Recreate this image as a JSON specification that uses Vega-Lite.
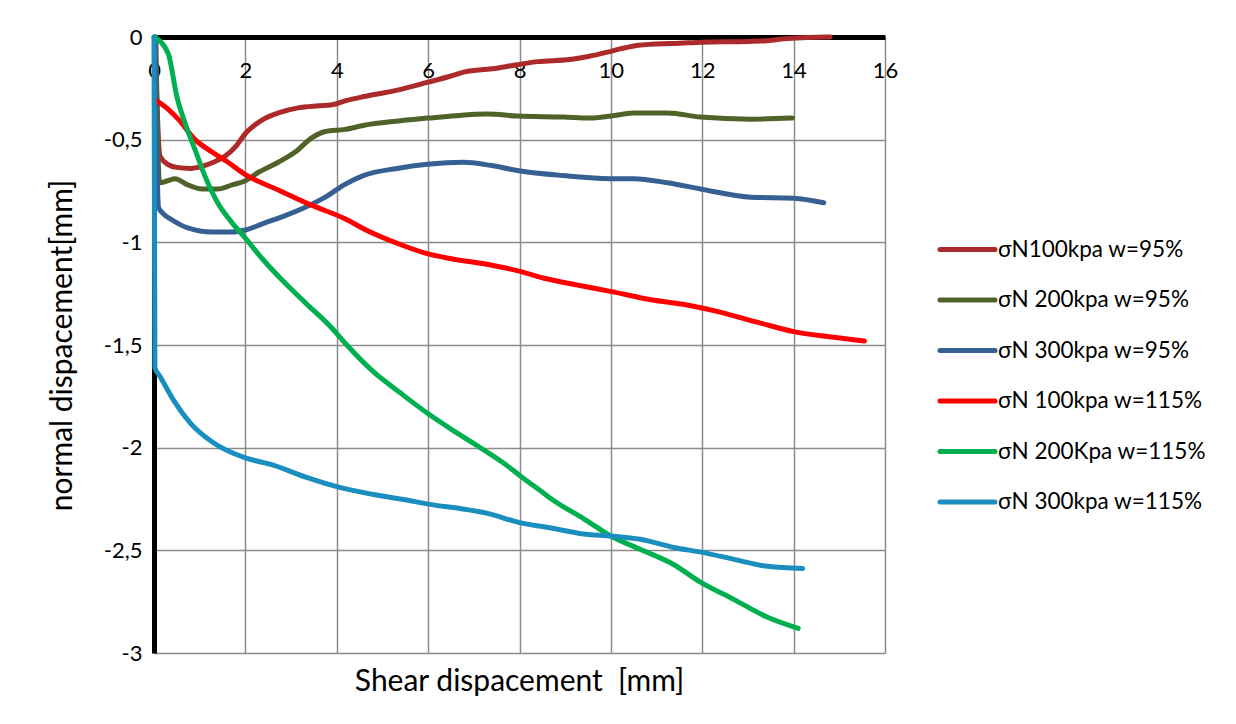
{
"$schema": "https://vega.github.io/schema/vega-lite/v6.json",
"width": 731, "height": 616,
"autosize": {"type": "none"},
"padding": {"left": 154, "top": 37, "right": 351, "bottom": 71},
"background": "white",
"config": {"font": "Lato", "view": {"stroke": null}},
"data": {"values": [
{"s":"σN100kpa w=95%","x":0.02,"y":0},{"s":"σN100kpa w=95%","x":0.13,"y":-0.58},{"s":"σN100kpa w=95%","x":0.3,"y":-0.62},{"s":"σN100kpa w=95%","x":0.5,"y":-0.635},{"s":"σN100kpa w=95%","x":0.8,"y":-0.64},{"s":"σN100kpa w=95%","x":1.05,"y":-0.63},{"s":"σN100kpa w=95%","x":1.3,"y":-0.61},{"s":"σN100kpa w=95%","x":1.56,"y":-0.58},{"s":"σN100kpa w=95%","x":1.8,"y":-0.53},{"s":"σN100kpa w=95%","x":2.0,"y":-0.47},{"s":"σN100kpa w=95%","x":2.2,"y":-0.43},{"s":"σN100kpa w=95%","x":2.4,"y":-0.4},{"s":"σN100kpa w=95%","x":2.72,"y":-0.37},{"s":"σN100kpa w=95%","x":3.15,"y":-0.345},{"s":"σN100kpa w=95%","x":3.6,"y":-0.335},{"s":"σN100kpa w=95%","x":3.9,"y":-0.33},{"s":"σN100kpa w=95%","x":4.2,"y":-0.31},{"s":"σN100kpa w=95%","x":4.6,"y":-0.29},{"s":"σN100kpa w=95%","x":5.3,"y":-0.26},{"s":"σN100kpa w=95%","x":6.0,"y":-0.22},{"s":"σN100kpa w=95%","x":6.5,"y":-0.19},{"s":"σN100kpa w=95%","x":6.8,"y":-0.17},{"s":"σN100kpa w=95%","x":7.4,"y":-0.155},{"s":"σN100kpa w=95%","x":7.95,"y":-0.135},{"s":"σN100kpa w=95%","x":8.4,"y":-0.12},{"s":"σN100kpa w=95%","x":9.1,"y":-0.11},{"s":"σN100kpa w=95%","x":9.5,"y":-0.095},{"s":"σN100kpa w=95%","x":9.9,"y":-0.075},{"s":"σN100kpa w=95%","x":10.2,"y":-0.058},{"s":"σN100kpa w=95%","x":10.6,"y":-0.04},{"s":"σN100kpa w=95%","x":10.9,"y":-0.035},{"s":"σN100kpa w=95%","x":11.5,"y":-0.03},{"s":"σN100kpa w=95%","x":12.0,"y":-0.025},{"s":"σN100kpa w=95%","x":13.0,"y":-0.022},{"s":"σN100kpa w=95%","x":13.4,"y":-0.018},{"s":"σN100kpa w=95%","x":13.8,"y":-0.008},{"s":"σN100kpa w=95%","x":14.3,"y":-0.003},{"s":"σN100kpa w=95%","x":14.8,"y":0},
{"s":"σN 200kpa w=95%","x":0.04,"y":0},{"s":"σN 200kpa w=95%","x":0.12,"y":-0.71},{"s":"σN 200kpa w=95%","x":0.3,"y":-0.7},{"s":"σN 200kpa w=95%","x":0.46,"y":-0.69},{"s":"σN 200kpa w=95%","x":0.74,"y":-0.72},{"s":"σN 200kpa w=95%","x":1.05,"y":-0.74},{"s":"σN 200kpa w=95%","x":1.4,"y":-0.74},{"s":"σN 200kpa w=95%","x":1.71,"y":-0.72},{"s":"σN 200kpa w=95%","x":2.0,"y":-0.7},{"s":"σN 200kpa w=95%","x":2.28,"y":-0.66},{"s":"σN 200kpa w=95%","x":2.72,"y":-0.61},{"s":"σN 200kpa w=95%","x":3.09,"y":-0.56},{"s":"σN 200kpa w=95%","x":3.46,"y":-0.49},{"s":"σN 200kpa w=95%","x":3.75,"y":-0.46},{"s":"σN 200kpa w=95%","x":4.18,"y":-0.45},{"s":"σN 200kpa w=95%","x":4.6,"y":-0.43},{"s":"σN 200kpa w=95%","x":5.3,"y":-0.41},{"s":"σN 200kpa w=95%","x":6.0,"y":-0.395},{"s":"σN 200kpa w=95%","x":6.6,"y":-0.383},{"s":"σN 200kpa w=95%","x":7.3,"y":-0.375},{"s":"σN 200kpa w=95%","x":7.95,"y":-0.385},{"s":"σN 200kpa w=95%","x":8.96,"y":-0.39},{"s":"σN 200kpa w=95%","x":9.55,"y":-0.395},{"s":"σN 200kpa w=95%","x":10.0,"y":-0.385},{"s":"σN 200kpa w=95%","x":10.5,"y":-0.37},{"s":"σN 200kpa w=95%","x":11.24,"y":-0.37},{"s":"σN 200kpa w=95%","x":11.96,"y":-0.39},{"s":"σN 200kpa w=95%","x":13.06,"y":-0.4},{"s":"σN 200kpa w=95%","x":13.97,"y":-0.395},
{"s":"\u00a0σN 300kpa w=95%","x":0.02,"y":0},{"s":"\u00a0σN 300kpa w=95%","x":0.1,"y":-0.83},{"s":"\u00a0σN 300kpa w=95%","x":0.2,"y":-0.86},{"s":"\u00a0σN 300kpa w=95%","x":0.39,"y":-0.89},{"s":"\u00a0σN 300kpa w=95%","x":0.74,"y":-0.93},{"s":"\u00a0σN 300kpa w=95%","x":1.27,"y":-0.95},{"s":"\u00a0σN 300kpa w=95%","x":1.7,"y":-0.95},{"s":"\u00a0σN 300kpa w=95%","x":2.0,"y":-0.94},{"s":"\u00a0σN 300kpa w=95%","x":2.43,"y":-0.905},{"s":"\u00a0σN 300kpa w=95%","x":2.87,"y":-0.87},{"s":"\u00a0σN 300kpa w=95%","x":3.3,"y":-0.83},{"s":"\u00a0σN 300kpa w=95%","x":3.75,"y":-0.78},{"s":"\u00a0σN 300kpa w=95%","x":4.16,"y":-0.72},{"s":"\u00a0σN 300kpa w=95%","x":4.58,"y":-0.675},{"s":"\u00a0σN 300kpa w=95%","x":5.32,"y":-0.64},{"s":"\u00a0σN 300kpa w=95%","x":5.98,"y":-0.62},{"s":"\u00a0σN 300kpa w=95%","x":6.77,"y":-0.61},{"s":"\u00a0σN 300kpa w=95%","x":7.36,"y":-0.625},{"s":"\u00a0σN 300kpa w=95%","x":7.95,"y":-0.65},{"s":"\u00a0σN 300kpa w=95%","x":8.96,"y":-0.675},{"s":"\u00a0σN 300kpa w=95%","x":9.99,"y":-0.69},{"s":"\u00a0σN 300kpa w=95%","x":10.5,"y":-0.69},{"s":"\u00a0σN 300kpa w=95%","x":11.24,"y":-0.71},{"s":"\u00a0σN 300kpa w=95%","x":11.96,"y":-0.74},{"s":"\u00a0σN 300kpa w=95%","x":13.06,"y":-0.78},{"s":"\u00a0σN 300kpa w=95%","x":14.0,"y":-0.785},{"s":"\u00a0σN 300kpa w=95%","x":14.66,"y":-0.807},
{"s":"σN 100kpa w=115%","x":0.05,"y":-0.31},{"s":"σN 100kpa w=115%","x":0.3,"y":-0.35},{"s":"σN 100kpa w=115%","x":0.53,"y":-0.4},{"s":"σN 100kpa w=115%","x":0.9,"y":-0.5},{"s":"σN 100kpa w=115%","x":1.27,"y":-0.56},{"s":"σN 100kpa w=115%","x":1.62,"y":-0.61},{"s":"σN 100kpa w=115%","x":2.0,"y":-0.67},{"s":"σN 100kpa w=115%","x":2.72,"y":-0.745},{"s":"σN 100kpa w=115%","x":3.46,"y":-0.82},{"s":"σN 100kpa w=115%","x":4.18,"y":-0.885},{"s":"σN 100kpa w=115%","x":4.64,"y":-0.94},{"s":"σN 100kpa w=115%","x":5.42,"y":-1.013},{"s":"σN 100kpa w=115%","x":5.96,"y":-1.054},{"s":"σN 100kpa w=115%","x":6.51,"y":-1.08},{"s":"σN 100kpa w=115%","x":7.37,"y":-1.11},{"s":"σN 100kpa w=115%","x":7.99,"y":-1.14},{"s":"σN 100kpa w=115%","x":8.54,"y":-1.175},{"s":"σN 100kpa w=115%","x":9.32,"y":-1.21},{"s":"σN 100kpa w=115%","x":10.02,"y":-1.24},{"s":"σN 100kpa w=115%","x":10.88,"y":-1.28},{"s":"σN 100kpa w=115%","x":11.66,"y":-1.305},{"s":"σN 100kpa w=115%","x":12.2,"y":-1.33},{"s":"σN 100kpa w=115%","x":13.22,"y":-1.39},{"s":"σN 100kpa w=115%","x":14.0,"y":-1.435},{"s":"σN 100kpa w=115%","x":14.78,"y":-1.46},{"s":"σN 100kpa w=115%","x":15.55,"y":-1.48},
{"s":"σN 200Kpa w=115%","x":0.0,"y":0},{"s":"σN 200Kpa w=115%","x":0.31,"y":-0.08},{"s":"σN 200Kpa w=115%","x":0.5,"y":-0.29},{"s":"σN 200Kpa w=115%","x":0.68,"y":-0.42},{"s":"σN 200Kpa w=115%","x":0.9,"y":-0.55},{"s":"σN 200Kpa w=115%","x":1.12,"y":-0.68},{"s":"σN 200Kpa w=115%","x":1.4,"y":-0.81},{"s":"σN 200Kpa w=115%","x":1.71,"y":-0.905},{"s":"σN 200Kpa w=115%","x":2.0,"y":-0.98},{"s":"σN 200Kpa w=115%","x":2.37,"y":-1.08},{"s":"σN 200Kpa w=115%","x":2.83,"y":-1.19},{"s":"σN 200Kpa w=115%","x":3.34,"y":-1.3},{"s":"σN 200Kpa w=115%","x":3.86,"y":-1.41},{"s":"σN 200Kpa w=115%","x":4.22,"y":-1.5},{"s":"σN 200Kpa w=115%","x":4.8,"y":-1.63},{"s":"σN 200Kpa w=115%","x":5.39,"y":-1.733},{"s":"σN 200Kpa w=115%","x":5.97,"y":-1.83},{"s":"σN 200Kpa w=115%","x":6.63,"y":-1.928},{"s":"σN 200Kpa w=115%","x":7.21,"y":-2.01},{"s":"σN 200Kpa w=115%","x":7.65,"y":-2.075},{"s":"σN 200Kpa w=115%","x":8.09,"y":-2.15},{"s":"σN 200Kpa w=115%","x":8.46,"y":-2.21},{"s":"σN 200Kpa w=115%","x":8.73,"y":-2.255},{"s":"σN 200Kpa w=115%","x":9.4,"y":-2.345},{"s":"σN 200Kpa w=115%","x":10.0,"y":-2.43},{"s":"σN 200Kpa w=115%","x":10.64,"y":-2.495},{"s":"σN 200Kpa w=115%","x":11.38,"y":-2.57},{"s":"σN 200Kpa w=115%","x":11.96,"y":-2.655},{"s":"σN 200Kpa w=115%","x":12.7,"y":-2.74},{"s":"σN 200Kpa w=115%","x":13.43,"y":-2.826},{"s":"σN 200Kpa w=115%","x":14.1,"y":-2.88},
{"s":"σN 300kpa w=115%","x":0.0,"y":0},{"s":"σN 300kpa w=115%","x":0.02,"y":-1.61},{"s":"σN 300kpa w=115%","x":0.13,"y":-1.652},{"s":"σN 300kpa w=115%","x":0.42,"y":-1.766},{"s":"σN 300kpa w=115%","x":0.79,"y":-1.879},{"s":"σN 300kpa w=115%","x":1.3,"y":-1.976},{"s":"σN 300kpa w=115%","x":2.0,"y":-2.05},{"s":"σN 300kpa w=115%","x":2.61,"y":-2.085},{"s":"σN 300kpa w=115%","x":3.34,"y":-2.145},{"s":"σN 300kpa w=115%","x":4.0,"y":-2.19},{"s":"σN 300kpa w=115%","x":4.8,"y":-2.228},{"s":"σN 300kpa w=115%","x":5.53,"y":-2.255},{"s":"σN 300kpa w=115%","x":6.0,"y":-2.275},{"s":"σN 300kpa w=115%","x":6.8,"y":-2.3},{"s":"σN 300kpa w=115%","x":7.3,"y":-2.32},{"s":"σN 300kpa w=115%","x":8.0,"y":-2.365},{"s":"σN 300kpa w=115%","x":8.67,"y":-2.39},{"s":"σN 300kpa w=115%","x":9.4,"y":-2.42},{"s":"σN 300kpa w=115%","x":10.0,"y":-2.43},{"s":"σN 300kpa w=115%","x":10.64,"y":-2.446},{"s":"σN 300kpa w=115%","x":11.38,"y":-2.486},{"s":"σN 300kpa w=115%","x":12.0,"y":-2.51},{"s":"σN 300kpa w=115%","x":12.7,"y":-2.544},{"s":"σN 300kpa w=115%","x":13.43,"y":-2.578},{"s":"σN 300kpa w=115%","x":14.2,"y":-2.588}
]},
"mark": {"type": "line", "strokeWidth": 5, "strokeCap": "round", "strokeJoin": "round", "interpolate": "monotone", "clip": false},
"encoding": {
  "x": {"field": "x", "type": "quantitative",
    "scale": {"domain": [0, 16], "nice": false, "zero": false},
    "axis": {"orient": "bottom", "offset": -616, "values": [0,2,4,6,8,10,12,14,16],
      "grid": true, "gridColor": "#8c8c8c", "gridWidth": 1.5,
      "domainColor": "black", "domainWidth": 5, "ticks": false,
      "labelFontSize": 22, "labelPadding": 23, "labelColor": "black", "labelFlush": false,
      "title": "Shear dispacement \u00a0[mm]", "titleFontSize": 30, "titleFontWeight": "normal", "titleColor": "black",
      "titleX": 365, "titleY": 644, "titleAlign": "center", "titleBaseline": "middle", "zindex": 0}},
  "y": {"field": "y", "type": "quantitative",
    "scale": {"domain": [-3, 0], "nice": false, "zero": false},
    "axis": {"values": [-3,-2.5,-2,-1.5,-1,-0.5,0],
      "labelExpr": "replace(toString(datum.value), '.', ',')",
      "grid": true, "gridColor": "#8c8c8c", "gridWidth": 1.5,
      "domainColor": "black", "domainWidth": 5, "ticks": false,
      "labelFontSize": 22, "labelPadding": 12, "labelColor": "black", "labelFlush": false,
      "title": "normal dispacement[mm]", "titleFontSize": 30, "titleFontWeight": "normal", "titleColor": "black",
      "titleX": -92, "titleY": 308, "titleAngle": -90, "titleAlign": "center", "titleBaseline": "middle", "zindex": 0}},
  "color": {"field": "s", "type": "nominal",
    "scale": {"domain": ["σN100kpa w=95%", "σN 200kpa w=95%", "\u00a0σN 300kpa w=95%", "σN 100kpa w=115%", "σN 200Kpa w=115%", "σN 300kpa w=115%"],
      "range": ["#AD2A2A", "#4F6228", "#376092", "#FF0000", "#00B050", "#1A8FBF"]},
    "legend": {"orient": "none", "legendX": 797, "legendY": 196, "title": null,
      "symbolType": "M-2,0L2,0", "symbolSize": 756, "symbolStrokeWidth": 5,
      "labelFontSize": 22.5, "labelColor": "black", "labelOffset": 14, "rowPadding": 22.5,
      "padding": 0, "labelLimit": 400,
      "encode": {"symbols": {"update": {"strokeCap": {"value": "round"}}}}}}
}
}
